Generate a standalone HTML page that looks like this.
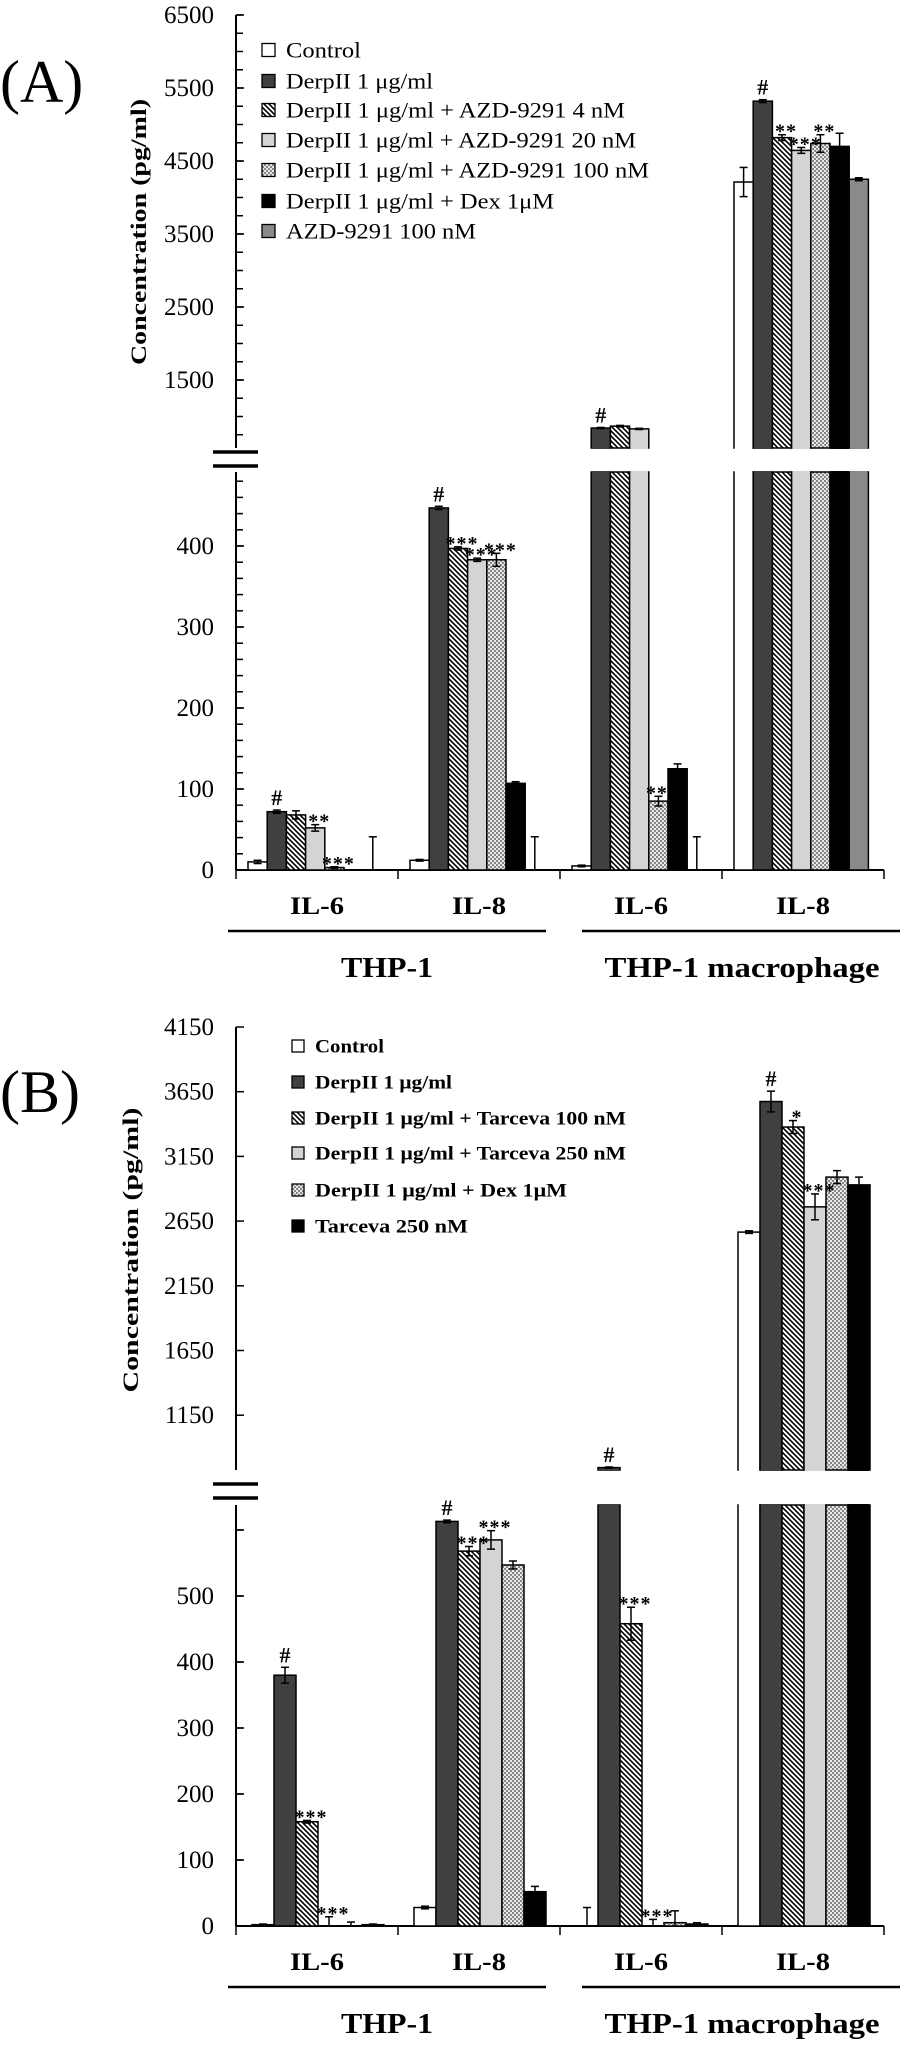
<!DOCTYPE html>
<html><head><meta charset="utf-8"><style>
html,body{margin:0;padding:0;background:#fff;}
svg{display:block;font-family:"Liberation Serif",serif;}
</style></head><body>
<svg id="fig" width="905" height="2047" viewBox="0 0 905 2047" xmlns="http://www.w3.org/2000/svg">
<defs>
<pattern id="hatch" patternUnits="userSpaceOnUse" width="5" height="5">
<rect width="5" height="5" fill="#fff"/>
<path d="M-1,-1 L6,6 M-1,4 L1,6 M4,-1 L6,1" stroke="#000" stroke-width="1.6"/>
</pattern>
<pattern id="check" patternUnits="userSpaceOnUse" width="4" height="4">
<rect width="4" height="4" fill="#e8e8e8"/>
<rect width="2" height="2" fill="#888"/>
<rect x="2" y="2" width="2" height="2" fill="#888"/>
</pattern>
</defs>
<g id="root"></g>
</svg>
<script>
// ---------- Panel A data ----------
const catsA = ["IL-6","IL-8","IL-6","IL-8"];
const seriesA = ["Control","DerpII 1 μg/ml","DerpII 1 μg/ml + AZD-9291 4 nM","DerpII 1 μg/ml + AZD-9291 20 nM","DerpII 1 μg/ml + AZD-9291 100 nM","DerpII 1 μg/ml + Dex 1μM","AZD-9291 100 nM"];
const valsA_il6_thp = [10,72,68,52,3,0,0];
const errA_il6_thp = [2,2,5,4,1,0,41];
const valsA_il8_thp = [12,447,397,383,383,107,0];
const errA_il8_thp = [1,2,2,2,8,2,41];
const valsA_il6_mac = [5,842,868,830,85,125,0];
const errA_il6_mac = [1,8,10,8,6,6,41];
const valsA_il8_mac = [4212,5320,4820,4645,4740,4700,4250];
const errA_il8_mac = [200,20,40,40,120,180,20];
const ticksA_low = [0,100,200,300,400];
const ticksA_high = [1500,2500,3500,4500,5500,6500];
const annA = [[0,1,"#"],[0,3,"**"],[0,4,"***"],[1,1,"#"],[1,2,"***"],[1,3,"***"],[1,4,"***"],[2,1,"#"],[2,4,"***"],[3,1,"#"],[3,2,"**"],[3,3,"***"],[3,4,"**"]];
// ---------- Panel B data ----------
const catsB = ["IL-6","IL-8","IL-6","IL-8"];
const seriesB = ["Control","DerpII 1 μg/ml","DerpII 1 μg/ml + Tarceva  100 nM","DerpII 1 μg/ml + Tarceva  250 nM","DerpII 1 μg/ml + Dex 1μM","Tarceva 250 nM"];
const valsB_il6_thp = [2,380,158,0,0,2];
const errB_il6_thp = [1,12,2,14,6,1];
const valsB_il8_thp = [28,613,568,585,547,52];
const errB_il8_thp = [2,2,7,14,6,8];
const valsB_il6_mac = [0,745,458,0,5,3];
const errB_il6_mac = [28,5,25,10,18,2];
const valsB_il8_mac = [2565,3574,3377,2760,2990,2930];
const errB_il8_mac = [10,80,50,100,50,60];
const ticksB_low = [0,100,200,300,400,500];
const ticksB_high = [1150,1650,2150,2650,3150,3650,4150];
const annB = [[0,1,"#"],[0,2,"***"],[0,3,"***"],[1,1,"#"],[1,2,"***"],[1,3,"***"],[2,1,"#"],[2,2,"***"],[2,3,"***"],[3,1,"#"],[3,2,"*"],[3,3,"***"]];

const NS="http://www.w3.org/2000/svg";
const root=document.getElementById('root');
function mk(tag,attrs,parent,txt){const e=document.createElementNS(NS,tag);for(const k in attrs)e.setAttribute(k,attrs[k]);if(txt!==undefined)e.textContent=txt;(parent||root).appendChild(e);return e;}

const fillsA=["#fff","#404040","url(#hatch)","#d4d4d4","url(#check)","#000","#8a8a8a"];
const fillsB=["#fff","#404040","url(#hatch)","#d4d4d4","url(#check)","#000"];

function panel(cfg){
  const g=mk('g',{});
  
  
  const yLow=v=>cfg.base-v*cfg.lowK;
  const yHigh=v=>cfg.hiTopY+(cfg.hiTopV-v)*cfg.hiK;
  const y=v=>v<=cfg.lowMaxV?yLow(v):yHigh(v);
  const ax=mk('g',{},g);
  
  
  mk('line',{x1:cfg.ax,y1:cfg.hiTopY,x2:cfg.ax,y2:cfg.hiBot,stroke:'#000','stroke-width':2},ax);
  mk('line',{x1:cfg.ax,y1:cfg.lowTop,x2:cfg.ax,y2:cfg.base,stroke:'#000','stroke-width':2},ax);
  const brk=mk('g',{},ax);
  
  
  mk('line',{x1:cfg.ax-23,y1:cfg.brk1,x2:cfg.ax+22,y2:cfg.brk1,stroke:'#000','stroke-width':3.5},brk);
  mk('line',{x1:cfg.ax-23,y1:cfg.brk2,x2:cfg.ax+22,y2:cfg.brk2,stroke:'#000','stroke-width':3.5},brk);
  for(let v=cfg.minorLowStep; v<=cfg.lowMaxV; v+=cfg.minorLowStep){
    if(yLow(v)<cfg.lowTop+2)break;
    mk('line',{x1:cfg.ax,y1:yLow(v),x2:cfg.ax+7,y2:yLow(v),stroke:'#000','stroke-width':1.5},ax);
  }
  if(cfg.minorHiStep){
    for(let v=cfg.hiTopV; yHigh(v)<=cfg.hiBot-8; v-=cfg.minorHiStep){
      mk('line',{x1:cfg.ax,y1:yHigh(v),x2:cfg.ax+7,y2:yHigh(v),stroke:'#000','stroke-width':1.5},ax);
    }
  }
  cfg.ticksLow.forEach(t=>{
    mk('line',{x1:cfg.ax,y1:yLow(t),x2:cfg.ax+8,y2:yLow(t),stroke:'#000','stroke-width':1.5},ax);
    const tl=mk('text',{x:cfg.ax-22,y:yLow(t)+8,'text-anchor':'end','font-size':cfg.tickFs},ax,String(t));
    
    
  });
  cfg.ticksHigh.forEach(t=>{
    mk('line',{x1:cfg.ax,y1:yHigh(t),x2:cfg.ax+8,y2:yHigh(t),stroke:'#000','stroke-width':1.5},ax);
    const tl=mk('text',{x:cfg.ax-22,y:yHigh(t)+8,'text-anchor':'end','font-size':cfg.tickFs},ax,String(t));
    
    
  });
  if(cfg.extraTick) mk('line',{x1:cfg.ax,y1:yLow(cfg.extraTick),x2:cfg.ax+8,y2:yLow(cfg.extraTick),stroke:'#000','stroke-width':1.5},ax);
  const yt=mk('text',{x:0,y:0,transform:`translate(${cfg.titleX},${cfg.titleY}) rotate(-90)`,'text-anchor':'middle','font-size':22,'font-weight':'bold',textLength:cfg.titleLen,lengthAdjust:'spacingAndGlyphs'},g,'Concentration (pg/ml)');
  
  
  const xa=mk('g',{},g);
  
  
  mk('line',{x1:cfg.ax,y1:cfg.base,x2:cfg.ax+4*cfg.gw,y2:cfg.base,stroke:'#000','stroke-width':2},xa);
  for(let k=0;k<=4;k++) mk('line',{x1:cfg.ax+k*cfg.gw,y1:cfg.base,x2:cfg.ax+k*cfg.gw,y2:cfg.base+9,stroke:'#000','stroke-width':1.5},xa);
  cfg.cats.forEach((c,k)=>{
    const t=mk('text',{x:cfg.ax+k*cfg.gw+cfg.gw/2,y:cfg.base+44,'text-anchor':'middle','font-size':25,'font-weight':'bold',textLength:54,lengthAdjust:'spacingAndGlyphs'},xa,c);
    
    
  });
  mk('line',{x1:228,y1:cfg.base+61,x2:546,y2:cfg.base+61,stroke:'#000','stroke-width':2.5},xa);
  mk('line',{x1:582,y1:cfg.base+61,x2:900,y2:cfg.base+61,stroke:'#000','stroke-width':2.5},xa);
  const g1=mk('text',{x:387,y:cfg.base+107,'text-anchor':'middle','font-size':28,'font-weight':'bold',textLength:92,lengthAdjust:'spacingAndGlyphs'},xa,'THP-1');
  
  
  const g2=mk('text',{x:742,y:cfg.base+107,'text-anchor':'middle','font-size':28,'font-weight':'bold',textLength:275,lengthAdjust:'spacingAndGlyphs'},xa,'THP-1 macrophage');
  
  
  const bw=cfg.bw;
  const tops=[];
  cfg.vals.forEach((arr,gi)=>{
    tops.push([]);
    arr.forEach((v,si)=>{
      const x=cfg.ax+gi*cfg.gw+cfg.off+si*bw;
      const bg=mk('g',{},g);
      
      
      const st={fill:cfg.fills[si],stroke:'#000','stroke-width':1.5};
      if(v<=cfg.lowMaxV){
        const yy=yLow(v);
        if(v>0) mk('rect',Object.assign({x:x,y:yy,width:bw,height:cfg.base-yy},st),bg);
      } else {
        mk('rect',Object.assign({x:x,y:cfg.lowTop,width:bw,height:cfg.base-cfg.lowTop},st),bg);
        const yy=yHigh(v);
        mk('rect',Object.assign({x:x,y:yy,width:bw,height:cfg.hiBot-yy},st),bg);
        mk('line',{x1:x+0.8,y1:cfg.lowTop,x2:x+bw-0.8,y2:cfg.lowTop,stroke:cfg.fills[si].startsWith('url')?'none':cfg.fills[si],'stroke-width':2},bg);
        mk('line',{x1:x+0.8,y1:cfg.hiBot,x2:x+bw-0.8,y2:cfg.hiBot,stroke:cfg.fills[si].startsWith('url')?'none':cfg.fills[si],'stroke-width':2},bg);
      }
      const e=cfg.errs[gi][si];
      const cx=x+bw/2;
      const yt=y(v+e), yb=y(Math.max(0,v-e));
      mk('line',{x1:cx,y1:yt,x2:cx,y2:yb,stroke:'#000','stroke-width':1.5},bg);
      mk('line',{x1:cx-4,y1:yt,x2:cx+4,y2:yt,stroke:'#000','stroke-width':1.5},bg);
      if(v-e>0) mk('line',{x1:cx-4,y1:yb,x2:cx+4,y2:yb,stroke:'#000','stroke-width':1.5},bg);
      tops[gi].push([cx,yt]);
    });
  });
  cfg.ann.forEach(a=>{
    const p=tops[a[0]][a[1]];
    const isHash=a[2]==='#';
    const t=mk('text',{x:p[0]+(isHash?0:4),y:isHash?p[1]-5:p[1]+3,'text-anchor':'middle','font-size':isHash?22:20,'font-weight':'bold','letter-spacing':isHash?0:1},g,a[2]);
    
    
  });
  const lg=mk('g',{},g);
  
  
  cfg.series.forEach((s,i)=>{
    const yy=cfg.legY[i];
    const le=mk('g',{},lg);
    
    
    mk('rect',{x:cfg.legBoxX,y:yy-cfg.legBox/2,width:cfg.legBox,height:cfg.legBox,fill:cfg.fills[i],stroke:'#000','stroke-width':1.3},le);
    mk('text',{x:cfg.legTextX,y:yy+cfg.legFs*0.35,'font-size':cfg.legFs,'font-weight':cfg.legW,textLength:cfg.legLen[i],lengthAdjust:'spacingAndGlyphs'},le,s);
  });
  const pl=mk('text',{x:cfg.plX,y:cfg.plY,'font-size':60},g,cfg.plLabel);
  
  
}

panel({name:'panel-a',ax:236,gw:162,off:12,bw:19.2,base:870,lowK:0.81,lowMaxV:491,lowTop:472,
  hiTopY:15,hiTopV:6500,hiK:0.073,hiBot:448,brk1:452,brk2:466,minorLowStep:20,minorHiStep:250,
  ticksLow:ticksA_low,ticksHigh:ticksA_high,tickFs:25,titleX:146,titleY:232,titleLen:266,
  cats:catsA,vals:[valsA_il6_thp,valsA_il8_thp,valsA_il6_mac,valsA_il8_mac],
  errs:[errA_il6_thp,errA_il8_thp,errA_il6_mac,errA_il8_mac],fills:fillsA,ann:annA,
  series:seriesA,legY:[50,81,110,140,170,201,231],legBoxX:262,legBox:13,legTextX:286,legFs:22,legW:'normal',
  legLen:[75,147,339,350,363,268,190],plX:0,plY:102,plLabel:'(A)'});

panel({name:'panel-b',ax:236,gw:162,off:16,bw:22,base:1926,lowK:0.66,lowMaxV:638,lowTop:1505,
  hiTopY:1027,hiTopV:4150,hiK:0.1294,hiBot:1470,brk1:1484,brk2:1498,minorLowStep:100,minorHiStep:0,extraTick:600,
  ticksLow:ticksB_low,ticksHigh:ticksB_high,tickFs:25,titleX:138,titleY:1250,titleLen:285,
  cats:catsB,vals:[valsB_il6_thp,valsB_il8_thp,valsB_il6_mac,valsB_il8_mac],
  errs:[errB_il6_thp,errB_il8_thp,errB_il6_mac,errB_il8_mac],fills:fillsB,ann:annB,
  series:seriesB,legY:[1046,1082,1118,1153,1190,1226],legBoxX:292,legBox:12,legTextX:315,legFs:19,legW:'bold',
  legLen:[69,137,311,311,252,153],plX:0,plY:1112,plLabel:'(B)'});
</script>
</body></html>
